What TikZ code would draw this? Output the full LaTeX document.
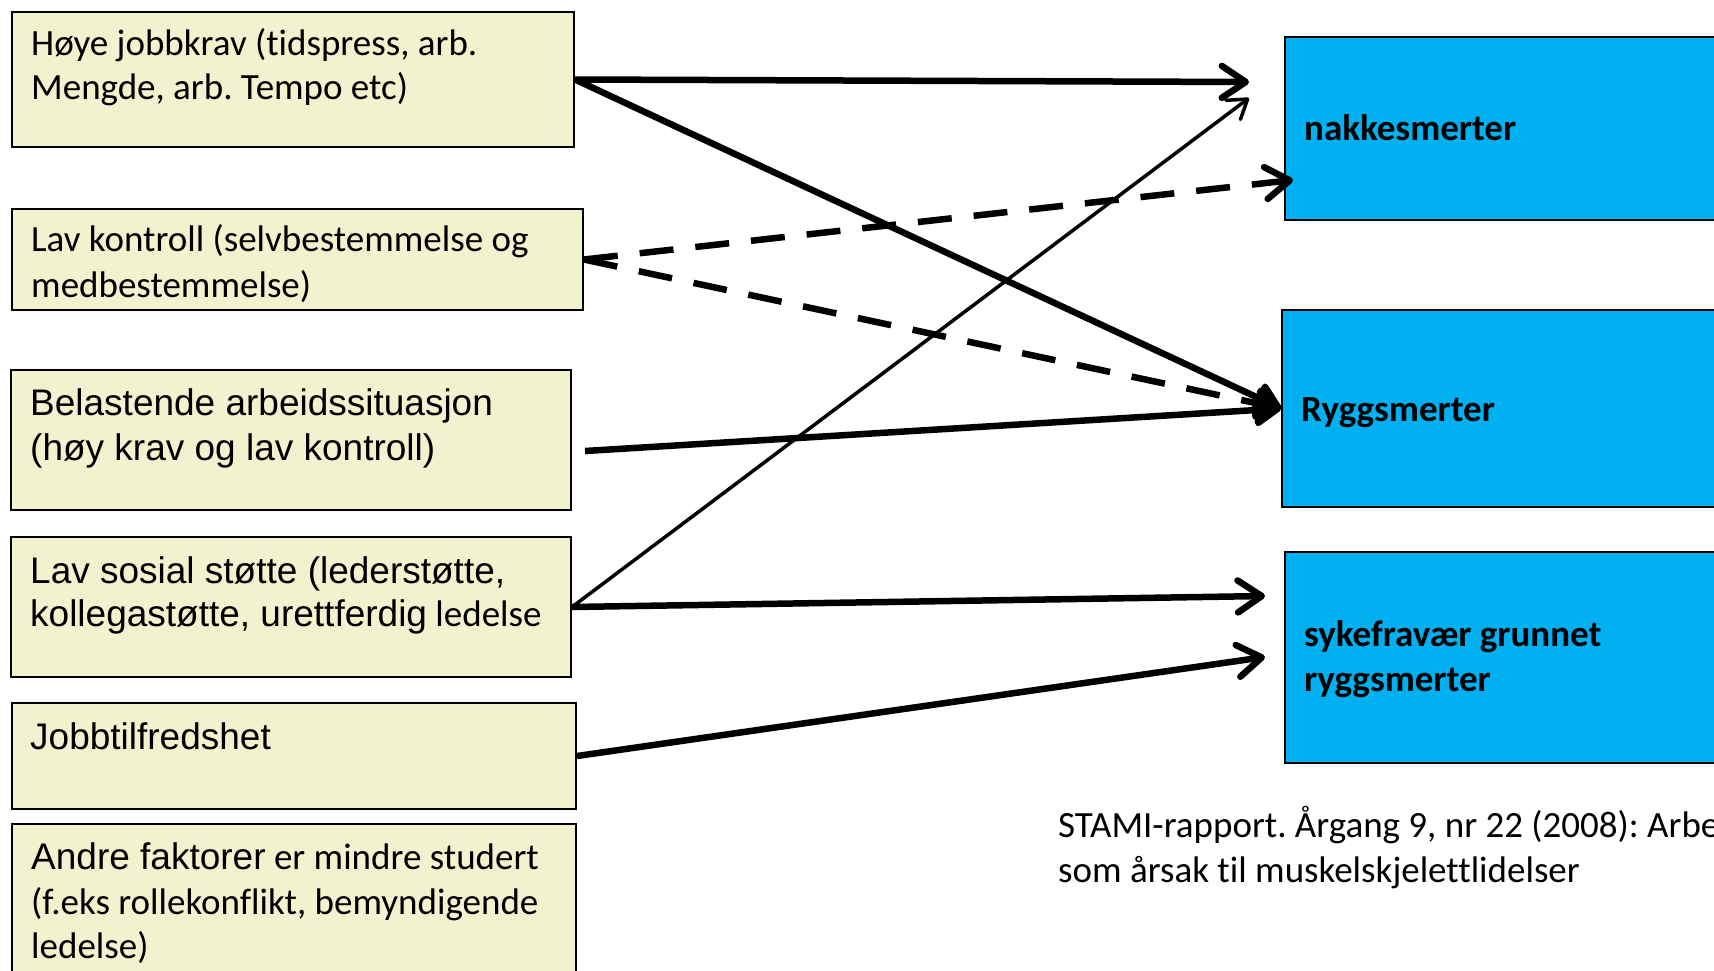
\documentclass[tikz,border=0pt]{standalone}
\usepackage{fontspec}
\setmainfont{Carlito}[Ligatures={NoCommon}]
\newfontfamily\arialfont{Liberation Sans}
\usetikzlibrary{arrows.meta}
\definecolor{boxyellow}{RGB}{242,242,206}
\definecolor{boxblue}{RGB}{0,176,240}
\frenchspacing
\begin{document}
\frenchspacing
\begin{tikzpicture}[x=1pt,y=-1pt,
  ybox/.style={draw=black, line width=2pt, fill=boxyellow, rectangle, anchor=north west, inner sep=0pt},
  bbox/.style={draw=black, line width=2pt, fill=boxblue, rectangle, anchor=north west, inner sep=0pt},
  ctxt/.style={anchor=base west, inner sep=0pt, font=\fontsize{37}{45}\selectfont},
  atxt/.style={anchor=base west, inner sep=0pt, font=\arialfont\fontsize{37}{45}\selectfont},
  btxt/.style={anchor=base west, inner sep=0pt, font=\bfseries\fontsize{37}{45}\selectfont},
  thickarr/.style={line width=6.5pt, -{Straight Barb[length=24pt, width=32pt, round]}},
  thinarr/.style={line width=3.5pt, -{Straight Barb[length=18pt, width=24pt, round]}},
  fillarr/.style={line width=6.5pt, -{Triangle[length=30pt, width=36pt, round]}},
  dasharr/.style={line width=6.5pt, dash pattern=on 34pt off 22pt},
]
\useasboundingbox (0,0) rectangle (1714,970);
\clip (0,0) rectangle (1714,970);
\fill[white] (0,0) rectangle (1714,970);

% left boxes
\node[ybox, minimum width=562pt, minimum height=135pt] (b1) at (11,11) {};
\node[ybox, minimum width=571pt, minimum height=101pt] (b2) at (11,208) {};
\node[ybox, minimum width=560pt, minimum height=140pt] (b3) at (10,369) {};
\node[ybox, minimum width=560pt, minimum height=140pt] (b4) at (10,536) {};
\node[ybox, minimum width=564pt, minimum height=106pt] (b5) at (11,702) {};
\node[ybox, minimum width=564pt, minimum height=175pt] (b6) at (11,823) {};

% right boxes
\node[bbox, minimum width=450pt, minimum height=183pt] (r1) at (1284,36) {};
\node[bbox, minimum width=450pt, minimum height=197pt] (r2) at (1281,309) {};
\node[bbox, minimum width=450pt, minimum height=211pt] (r3) at (1284,551) {};

% left texts
\node[ctxt] (t1a) at (31,55) {Høye jobbkrav (tidspress, arb.};
\node[ctxt] (t1b) at (31,99) {Mengde, arb. Tempo etc)};
\node[ctxt] (t2a) at (31,251) {Lav kontroll (selvbestemmelse og};
\node[ctxt] (t2b) at (31,297) {medbestemmelse)};
\node[atxt] (t3a) at (30,415) {Belastende arbeidssituasjon};
\node[atxt] (t3b) at (30,460) {(høy krav og lav kontroll)};
\node[atxt] (t4a) at (30,583) {Lav sosial støtte (lederstøtte,};
\node[atxt] (t4b) at (30,626) {kollegastøtte, urettferdig{\fontsize{37}{45}\selectfont\rmfamily\ ledelse}};
\node[atxt] (t5) at (30,749) {Jobbtilfredshet};
\node[atxt] (t6a) at (31,869) {Andre faktorer{\rmfamily\ er mindre studert}};
\node[ctxt] (t6b) at (31,914) {(f.eks rollekonflikt, bemyndigende};
\node[ctxt] (t6c) at (31,958) {ledelse)};

% right texts
\node[btxt] (u1) at (1304,140) {nakkesmerter};
\node[btxt] (u2) at (1301,421) {Ryggsmerter};
\node[btxt] (u3a) at (1304,646) {sykefravær grunnet};
\node[btxt] (u3b) at (1304,691) {ryggsmerter};

% citation (cut off at the right edge, as in the reference)
\node[ctxt] (c1) at (1058,837) {STAMI-rapport. Årgang 9, nr 22 (2008): Arbe};
\node[ctxt] (c2) at (1058,882) {som årsak til muskelskjelettlidelser};

% arrow end coordinates
\coordinate (e1) at (1249,82);
\coordinate (e3) at (1293,180);
\coordinate (s5) at (585,451);
\coordinate (e6) at (1249,98);
\coordinate (e7) at (1265,596);
\coordinate (e8) at (1265,657);

% connectors
\draw[thickarr] (b1.east) -- (e1);
\draw[dasharr, -{Straight Barb[length=24pt, width=32pt, round]}] (b2.east) -- (e3);
\draw[dasharr, -{Triangle[length=30pt, width=36pt, round]}] (b2.east) -- (r2.west);
\draw[fillarr] (b1.east) -- (r2.west);
\draw[fillarr] (s5) -- (r2.west);
\draw[thinarr] (b4.east) -- (e6);
\draw[thickarr] (b4.east) -- (e7);
\draw[thickarr] (b5.east) -- (e8);
\end{tikzpicture}
\end{document}
